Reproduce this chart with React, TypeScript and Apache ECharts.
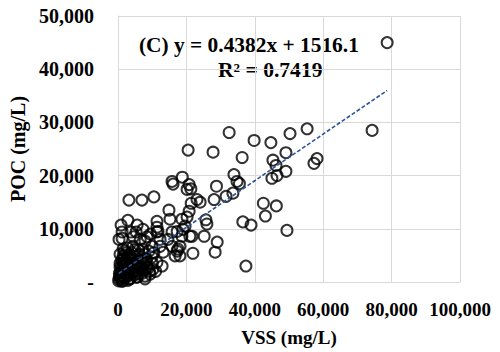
import React, { useEffect, useRef } from "react";
import * as echarts from "echarts";

// VSS (mg/L) and POC (mg/L)
const vss: number[] = [
  78700, 74300, 50300, 55300, 49100, 58200, 57300, 49100, 32500, 39800,
  44700, 27800, 36300, 20500, 45300, 46200, 45000, 46500, 33900, 34800,
  35500, 28800, 18800, 15800, 16100, 20200, 20800, 21300, 28100, 31600,
  23100, 33600, 42500, 46300, 43100, 49400, 36500, 38900, 37400, 25700,
  25200, 29000, 28400, 21900, 21600, 3200, 7000, 10500, 21400, 24000,
  14900, 20800, 20200, 15200, 26000, 11400, 11400, 11400, 900, 2900,
  5600, 7300, 3800, 1200, 19000, 18700, 21000, 15800, 14600, 17500,
  16700, 18100, 12300, 13200, 1500, 1500, 8500, 7900, 5300, 1200,
  300, 17300, 18700, 19600, 15800, 17300, 18100, 12300, 9900, 7900,
  4400, 600, 2000, 4100, 5800, 7900, 9900, 11400, 12900, 5800,
  4100, 2000, 300, 1200, 2900, 5600, 9400, 10200, 7900, 500,
  800, 1000, 1500, 2500, 3000, 3500, 4500, 5000, 6500, 3000,
  6500, 600, 1500, 200, 2500, 4000, 6000, 9000, 10500, 8500,
  9500, 6500, 4500, 10000, 11000, 3500, 4800, 6000, 700, 11700,
  400, 900, 1300, 1800, 2200, 2700, 3300, 3800, 4300, 5200,
  5600, 6200, 6800, 7400, 8100, 8800, 1100, 1700, 2400, 3100,
  3600, 4600, 5400, 7000, 7600, 8300, 9200, 1900, 2800, 3400,
  600, 1400, 2100, 4900, 6300, 7200
];
const poc: number[] = [
  45000, 28500, 27900, 28800, 24300, 23200, 22300, 20800, 28100, 26600,
  26200, 24400, 23400, 24800, 22900, 21900, 19500, 20000, 20200, 18900,
  18500, 18000, 19700, 18900, 18400, 17400, 18300, 17500, 15500, 16100,
  15500, 16700, 14800, 14300, 12400, 9700, 11300, 10700, 3000, 11700,
  8600, 7500, 5600, 5400, 8600, 15400, 15400, 16000, 14800, 15000,
  13500, 13300, 12200, 11800, 10900, 11400, 10300, 9400, 10700, 11600,
  10700, 9900, 9400, 8200, 9900, 8600, 8600, 9400, 8000, 6200,
  4900, 6700, 6700, 5600, 6200, 4900, 2800, 1100, 9400, 9400,
  8000, 9500, 11800, 10500, 6700, 5800, 4900, 8000, 6700, 7700,
  6700, 5200, 3700, 4300, 4900, 5200, 4700, 3700, 3000, 3000,
  2100, 1500, 600, 100, 300, 900, 1500, 2400, 600, 1000,
  1800, 2500, 3000, 2500, 1200, 3500, 3000, 2000, 2500, 4500,
  4000, 3500, 300, 200, 5500, 5500, 6000, 5800, 5500, 8500,
  9000, 8000, 8500, 3500, 2000, 600, 1400, 1500, 1200, 9500,
  1600, 700, 1900, 900, 3400, 1700, 2300, 2600, 1800, 3300,
  2700, 3200, 2900, 2200, 3800, 2600, 4100, 4400, 3900, 5200,
  700, 4200, 900, 1600, 3600, 4300, 2000, 5800, 6400, 5100,
  2800, 3700, 800, 6100, 5200, 6200
];

const slope = 0.4382;
const intercept = 1516.1;
const xTicks = [0, 20000, 40000, 60000, 80000, 100000];
const yTicks = [0, 10000, 20000, 30000, 40000, 50000];
const equationText = "(C) y = 0.4382x + 1516.1";
const r2Text = "R² = 0.7419";

const fmt = (v: number) => v.toLocaleString("en-US");

export default function App() {
  const ref = useRef<HTMLDivElement>(null);
  useEffect(() => {
    if (!ref.current) return;
    const chart = echarts.init(ref.current, null, { renderer: "svg" });
    const pts = vss.map((x, i) => [x, poc[i]]);
    const xmin = Math.min(...vss);
    const xmax = Math.max(...vss);
    const font = "Liberation Serif";
    chart.setOption({
      animation: false,
      grid: { left: 118, right: 40, top: 16, bottom: 69 },
      xAxis: {
        type: "value",
        min: xTicks[0],
        max: xTicks[xTicks.length - 1],
        interval: 20000,
        name: "VSS (mg/L)",
        nameLocation: "middle",
        nameGap: 46,
        nameTextStyle: { fontFamily: font, fontWeight: "bold", fontSize: 19, color: "#000" },
        axisLine: { show: true, lineStyle: { color: "#d9d9d9", width: 1 } },
        axisTick: { show: false },
        splitLine: { show: true, lineStyle: { color: "#d9d9d9", width: 1 } },
        axisLabel: {
          fontFamily: font, fontWeight: "bold", fontSize: 19, color: "#000", margin: 18,
          formatter: (v: number) => fmt(v)
        }
      },
      yAxis: {
        type: "value",
        min: yTicks[0],
        max: yTicks[yTicks.length - 1],
        interval: 10000,
        name: "POC (mg/L)",
        nameLocation: "middle",
        nameGap: 88,
        nameTextStyle: { fontFamily: font, fontWeight: "bold", fontSize: 20, color: "#000" },
        axisLine: { show: true, lineStyle: { color: "#d9d9d9", width: 1 } },
        axisTick: { show: false },
        splitLine: { show: true, lineStyle: { color: "#d9d9d9", width: 1 } },
        axisLabel: {
          fontFamily: font, fontWeight: "bold", fontSize: 20, color: "#000", margin: 24,
          formatter: (v: number) => (v === 0 ? "-" : fmt(v))
        }
      },
      series: [
        {
          type: "scatter",
          data: pts,
          symbol: "circle",
          symbolSize: 11,
          itemStyle: { color: "rgba(0,0,0,0)", borderColor: "#000", borderWidth: 2 },
          z: 2
        },
        {
          type: "line",
          data: [
            [xmin, slope * xmin + intercept],
            [xmax, slope * xmax + intercept]
          ],
          showSymbol: false,
          symbol: "none",
          lineStyle: { color: "#2E5597", width: 1.6, type: [4, 2] },
          z: 3
        }
      ],
      graphic: [
        {
          type: "text",
          x: 139,
          y: 45,
          scaleX: 1.07,
          style: {
            text: equationText, fontFamily: font, fontWeight: "bold", fontSize: 20, fill: "#000",
            verticalAlign: "middle"
          }
        },
        {
          type: "text",
          x: 218,
          y: 70,
          scaleX: 1.08,
          style: {
            text: r2Text, fontFamily: font, fontWeight: "bold", fontSize: 20, fill: "#000",
            verticalAlign: "middle"
          }
        }
      ]
    });
    return () => chart.dispose();
  }, []);
  return (
    <div
      ref={ref}
      style={{ position: "absolute", left: 0, top: 0, width: 500, height: 352, background: "#fff" }}
    />
  );
}
